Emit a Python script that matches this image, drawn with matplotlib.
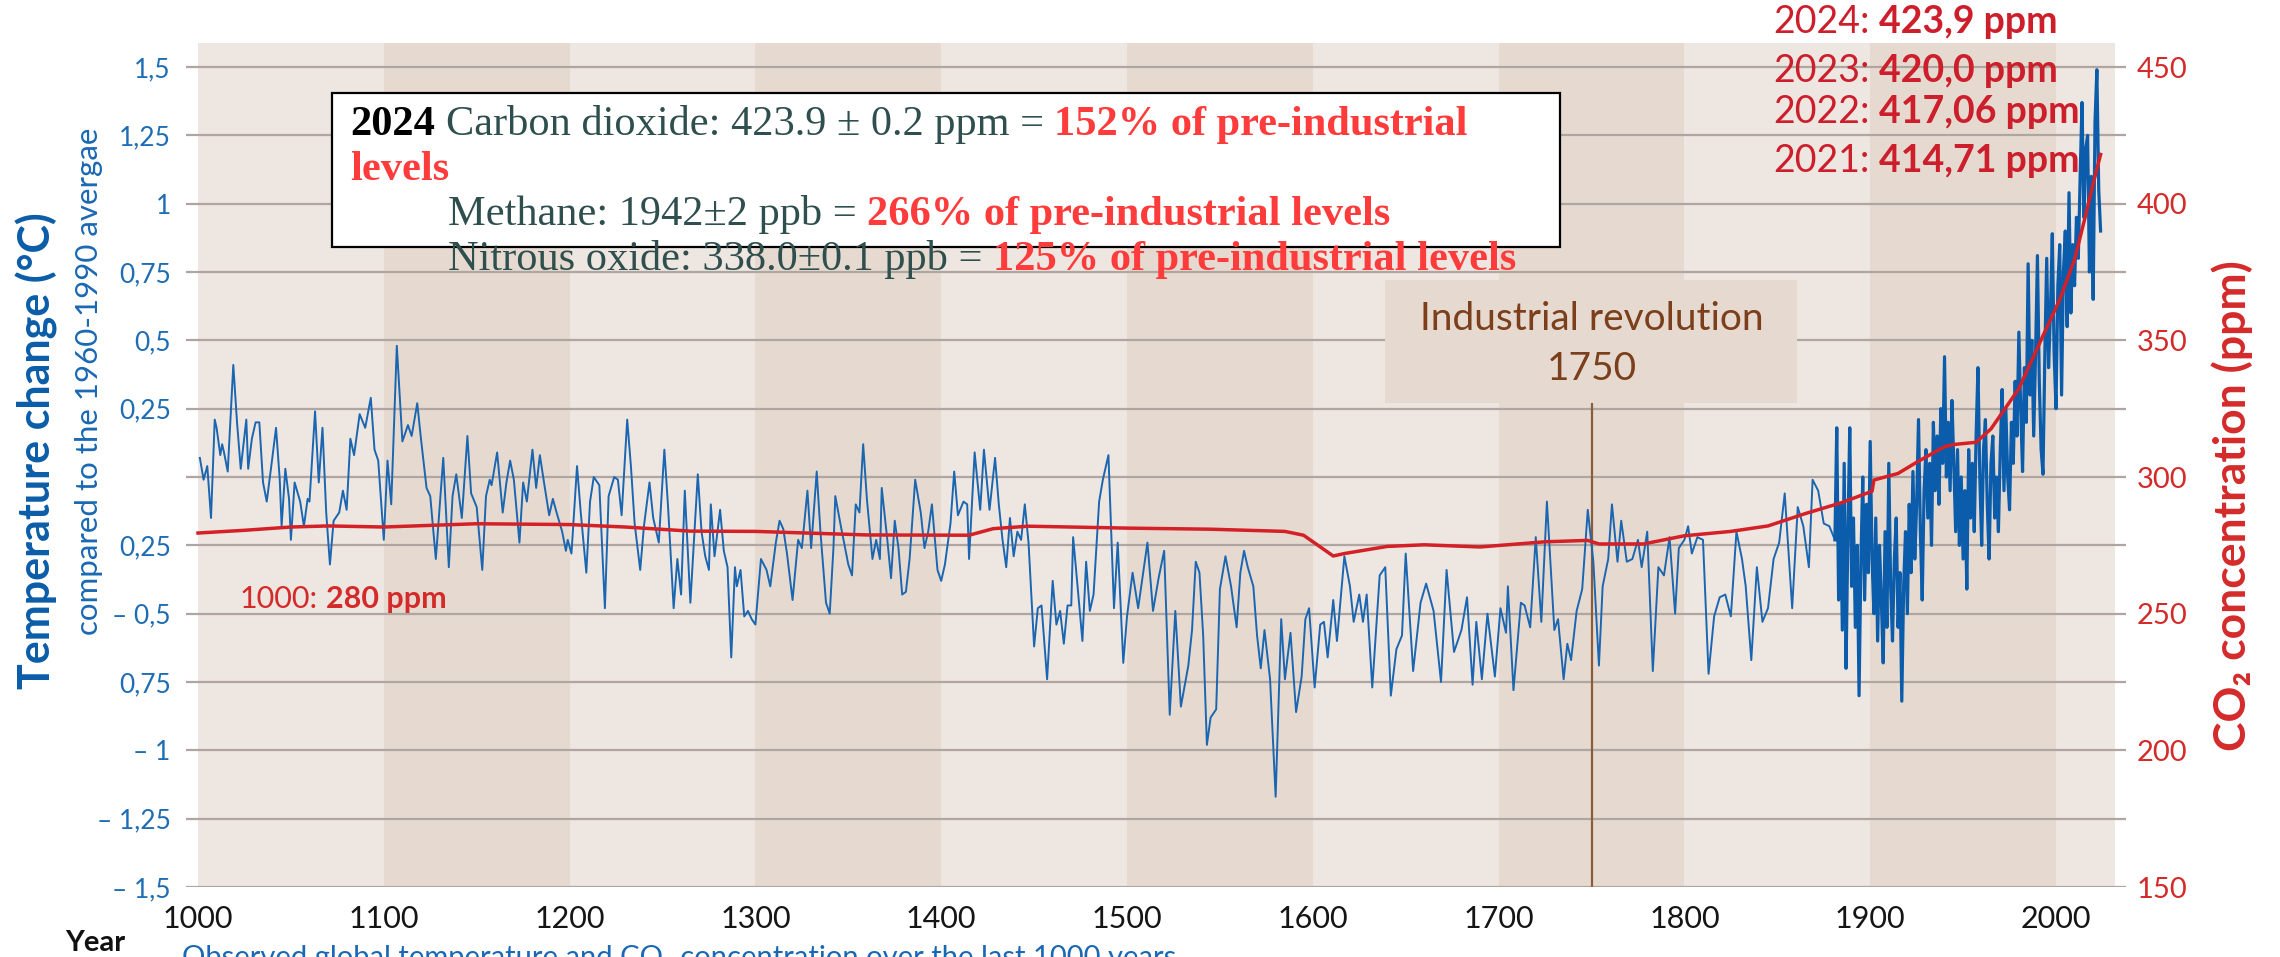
import matplotlib
matplotlib.use('Agg')
import matplotlib.pyplot as plt
from matplotlib.patches import Rectangle

W, H = 2280, 957

# temperature reconstruction, turning points (deg C vs 1960-1990)
early_years = [1001, 1003, 1005, 1007, 1009, 1010, 1012, 1013, 1014, 1016,
               1019, 1021, 1023, 1026, 1027, 1029, 1031, 1033, 1035, 1037,
               1040, 1042, 1044, 1045, 1047, 1049, 1050, 1052, 1055, 1057,
               1059, 1060, 1063, 1065, 1067, 1069, 1071, 1073, 1076, 1078,
               1080, 1082, 1084, 1087, 1090, 1093, 1095, 1097, 1100, 1102,
               1104, 1107, 1110, 1113, 1115, 1118, 1120, 1123, 1125, 1128,
               1132, 1135, 1137, 1139, 1142, 1145, 1147, 1150, 1153, 1155,
               1157, 1158, 1161, 1164, 1166, 1168, 1170, 1173, 1175, 1177,
               1180, 1182, 1184, 1186, 1189, 1191, 1193, 1196, 1198, 1199,
               1201, 1204, 1206, 1209, 1211, 1213, 1216, 1219, 1221, 1224,
               1226, 1228, 1231, 1233, 1235, 1238, 1240, 1243, 1245, 1248,
               1251, 1253, 1256, 1258, 1260, 1262, 1265, 1269, 1271, 1273,
               1275, 1276, 1278, 1281, 1283, 1285, 1287, 1289, 1290, 1292,
               1294, 1296, 1298, 1300, 1303, 1306, 1308, 1311, 1313, 1315,
               1317, 1320, 1323, 1325, 1328, 1330, 1333, 1335, 1338, 1340,
               1342, 1343, 1346, 1350, 1352, 1354, 1356, 1358, 1360,
               1363, 1365, 1367, 1368, 1371, 1373, 1375, 1377, 1379, 1381,
               1383, 1386, 1389, 1391, 1393, 1395, 1398, 1400, 1402, 1405,
               1407, 1409, 1412, 1414, 1415, 1418, 1421, 1423, 1426, 1429,
               1431, 1433, 1435, 1437, 1439, 1441, 1443, 1445, 1447, 1450,
               1452, 1454, 1457, 1460, 1462, 1464, 1466, 1468, 1470, 1471,
               1473, 1476, 1478, 1480, 1482, 1485, 1487, 1490, 1493, 1495,
               1498, 1500, 1503, 1506, 1511, 1514, 1517, 1520, 1523, 1526,
               1529, 1533, 1535, 1537, 1539, 1541, 1543, 1545, 1548, 1550,
               1553, 1556, 1559, 1561, 1563, 1565, 1568, 1570, 1572, 1574,
               1577, 1580, 1583, 1585, 1588, 1591, 1594, 1596, 1598, 1601,
               1604, 1606, 1608, 1611, 1613, 1617, 1620, 1622, 1625, 1627,
               1629, 1632, 1636, 1639, 1642, 1645, 1648, 1650, 1654, 1658,
               1661, 1665, 1669, 1672, 1676, 1680, 1683, 1686, 1688, 1691,
               1694, 1698, 1701, 1704, 1705, 1708, 1712, 1714, 1717, 1720,
               1723, 1726,
               1730, 1732, 1735, 1737, 1739, 1742, 1745, 1748, 1751, 1754,
               1756, 1759, 1761, 1764, 1766, 1769, 1772, 1775, 1777, 1780,
               1783, 1786, 1789, 1792, 1795, 1797, 1800, 1802, 1804, 1807,
               1810, 1813, 1816, 1819, 1822, 1825, 1828, 1831, 1833, 1836,
               1839, 1842, 1845, 1848, 1851, 1854, 1858, 1861, 1864, 1867,
               1869, 1872, 1875, 1878, 1881]
early_temp = [0.07, -0.01, 0.04, -0.15, 0.21, 0.18, 0.08, 0.12, 0.09, 0.02,
              0.41, 0.20, 0.03, 0.21, 0.03, 0.14, 0.20, 0.20, -0.02, -0.09,
              0.07, 0.18, -0.01, -0.18, 0.03, -0.08, -0.23, -0.02, -0.09, -0.18,
              -0.08, -0.09, 0.24, -0.02, 0.18, -0.13, -0.32, -0.16, -0.13, -0.05,
              -0.12, 0.14, 0.08, 0.23, 0.18, 0.29, 0.10, 0.06, -0.23, 0.06,
              -0.10, 0.48, 0.13, 0.19, 0.15, 0.27, 0.14, -0.04, -0.07, -0.30,
              0.07, -0.33, -0.07, 0.01, -0.15, 0.15, -0.06, -0.11, -0.34, -0.07,
              -0.01, -0.03, 0.09, -0.13, -0.02, 0.06, -0.01, -0.24, -0.02, -0.09,
              0.10, -0.04, 0.08, -0.01, -0.14, -0.08, -0.13, -0.20, -0.27, -0.23,
              -0.28, 0.04, -0.13, -0.35, -0.09, 0.00, -0.03, -0.48, -0.07, 0.00,
              -0.01, -0.14, 0.21, 0.04, -0.17, -0.34, -0.18, -0.02, -0.15, -0.24,
              0.10, -0.11, -0.48, -0.30, -0.43, -0.05, -0.46, 0.01, -0.20, -0.29,
              -0.34, -0.10, -0.29, -0.12, -0.27, -0.33, -0.66, -0.33, -0.40, -0.34,
              -0.51, -0.49, -0.52, -0.54, -0.30, -0.34, -0.40, -0.24, -0.16, -0.19,
              -0.28, -0.45, -0.23, -0.26, -0.05, -0.26, 0.02, -0.20, -0.46, -0.50,
              -0.26, -0.07, -0.18, -0.32, -0.36, -0.10, -0.13, 0.12, -0.08,
              -0.30, -0.23, -0.30, -0.04, -0.23, -0.37, -0.16, -0.26, -0.43, -0.42,
              -0.30, -0.01, -0.13, -0.26, -0.20, -0.10, -0.34, -0.38, -0.32, -0.17,
              0.02, -0.14, -0.09, -0.10, -0.30, 0.09, -0.12, 0.10, -0.12, 0.07,
              -0.10, -0.23, -0.33, -0.15, -0.29, -0.20, -0.23, -0.10, -0.24, -0.62,
              -0.48, -0.47, -0.74, -0.38, -0.54, -0.49, -0.61, -0.47, -0.47, -0.22,
              -0.37, -0.60, -0.31, -0.49, -0.43, -0.09, -0.01, 0.08, -0.48, -0.24,
              -0.68, -0.51, -0.35, -0.48, -0.24, -0.49, -0.37, -0.27, -0.87, -0.49,
              -0.84, -0.69, -0.56, -0.31, -0.35, -0.58, -0.98, -0.88, -0.85, -0.41,
              -0.29, -0.40, -0.55, -0.35, -0.27, -0.33, -0.40, -0.58, -0.70, -0.56,
              -0.74, -1.17, -0.52, -0.74, -0.57, -0.86, -0.73, -0.52, -0.48, -0.77,
              -0.54, -0.53, -0.66, -0.45, -0.60, -0.29, -0.40, -0.53, -0.43, -0.53,
              -0.43, -0.77, -0.36, -0.33, -0.80, -0.63, -0.58, -0.28, -0.71, -0.46,
              -0.39, -0.49, -0.75, -0.34, -0.64, -0.56, -0.44, -0.76, -0.53, -0.74,
              -0.50, -0.73, -0.48, -0.57, -0.40, -0.78, -0.46, -0.47, -0.55, -0.22,
              -0.53, -0.09,
              -0.56, -0.52, -0.74, -0.61, -0.67, -0.49, -0.41, -0.12, -0.31, -0.69,
              -0.40, -0.30, -0.10, -0.31, -0.16, -0.31, -0.30, -0.23, -0.33, -0.20,
              -0.71, -0.33, -0.36, -0.22, -0.50, -0.26, -0.23, -0.18, -0.28, -0.22,
              -0.23, -0.72, -0.51, -0.44, -0.43, -0.51, -0.20, -0.30, -0.40, -0.67,
              -0.33, -0.53, -0.48, -0.30, -0.24, -0.06, -0.48, -0.11, -0.18, -0.33,
              -0.01, -0.05, -0.17, -0.18, -0.23]

# instrumental era, one value per year 1882-2024
inst_years = list(range(1882, 2025))
inst_temp = [0.18, -0.45, -0.10, -0.56, 0.05, -0.70, -0.20, 0.18, -0.40, -0.15,
             -0.55, -0.25, -0.80, -0.30, 0.00, -0.45, -0.10, -0.35, 0.13, -0.30,
             -0.50, -0.15, -0.60, -0.25, -0.45, -0.68, -0.20, -0.55, 0.05, -0.40,
             -0.60, -0.30, -0.15, -0.55, -0.35, -0.82, -0.40, -0.20, -0.50, -0.10,
             -0.35, 0.02, -0.30, -0.10, 0.21, -0.20, -0.45, -0.05, 0.10, -0.15,
             0.05, -0.25, 0.20, -0.05, 0.15, -0.10, 0.25, 0.05, 0.44, 0.00,
             0.20, -0.05, 0.28, 0.05, -0.20, 0.10, -0.25, 0.00, -0.30, -0.05,
             -0.41, 0.10, -0.15, 0.05, -0.20, 0.15, 0.40, 0.00, -0.25, 0.10,
             0.21, -0.10, -0.30, 0.05, 0.15, -0.15, 0.00, -0.20, 0.10, 0.32,
             -0.05, 0.25, 0.00, -0.12, 0.20, 0.05, 0.35, 0.15, 0.53, 0.25,
             0.02, 0.40, 0.20, 0.78, 0.30, 0.50, 0.15, 0.45, 0.81, 0.35,
             0.10, 0.01, 0.45, 0.80, 0.40, 0.60, 0.89, 0.45, 0.25, 0.70,
             0.85, 0.30, 0.75, 0.90, 0.55, 1.04, 0.60, 0.85, 0.70, 0.95,
             0.80, 1.10, 1.37, 0.95, 1.20, 1.25, 0.75, 1.10, 0.65, 1.30,
             1.49, 1.05, 0.90]

# CO2 concentration (ppm)
co2_years = [1000, 1025, 1050, 1070, 1100, 1150, 1200, 1230, 1265, 1300,
             1360, 1415, 1428, 1447, 1500, 1545, 1585, 1595, 1611, 1617,
             1640, 1660, 1690, 1725, 1748, 1754, 1778, 1800, 1825, 1845,
             1865, 1885, 1901, 1902, 1915, 1925, 1940, 1945, 1957, 1965,
             1980, 1992, 2002, 2010, 2016, 2020, 2024]
co2_ppm = [279.5, 280.5, 281.7, 282.1, 281.7, 282.9, 282.6, 281.7, 280.2, 280.1,
           278.8, 278.7, 281.1, 282.0, 281.3, 280.9, 280.1, 278.7, 271.1, 272.0,
           274.6, 275.2, 274.4, 276.3, 276.8, 275.5, 275.5, 278.5, 280.1, 282.1,
           286.6, 290.7, 294.8, 298.9, 301.3, 305.4, 311.1, 311.9, 312.7, 317.6,
           332.3, 350.2, 364.9, 379.6, 395.9, 407.3, 418.0]

centuries = list(range(1000, 2100, 100))
temp_ticks = [-1.5, -1.25, -1.0, -0.75, -0.5, -0.25, 0.0, 0.25, 0.5, 0.75, 1.0, 1.25, 1.5]
temp_labels = ['– 1,5', '– 1,25', '– 1', '0,75', '– 0,5', '0,25', '',
               '0,25', '0,5', '0,75', '1', '1,25', '1,5']
co2_ticks = [150, 200, 250, 300, 350, 400, 450]
year_ticks = list(range(1000, 2001, 100))
recent_labels = [('2024:', '423,9 ppm'), ('2023:', '420,0 ppm'),
                 ('2022:', '417,06 ppm'), ('2021:', '414,71 ppm')]

plt.rcParams['font.family'] = ['Lato', 'DejaVu Sans']

BLUE = '#1B66B1'
RED = '#D42A2A'

fig = plt.figure(figsize=(22.8, 9.57), dpi=100)
ax = fig.add_axes([186 / W, 70 / H, 1940 / W, 844 / H])
ax.set_xlim(1000 - 12 / 1.858, 2000 + 70 / 1.858)
ax.set_ylim(-1.5, 1.5 + 24 / 273.3)

for i, c in enumerate(centuries):
    ax.axvspan(c, min(c + 100, 2032), color='#EEE6E0' if i % 2 == 0 else '#E6DAD0',
               lw=0, zorder=0.5)

ax.set_yticks(temp_ticks, temp_labels)
ax.set_xticks(year_ticks)
ax.grid(axis='y', color='#AFA6A1', lw=1.6)
ax.tick_params(axis='y', length=0, pad=11, labelsize=19, labelcolor='#1F6DB4')
ax.tick_params(axis='x', length=0, pad=13, labelsize=22, labelcolor='#151515')
for s in ax.spines.values():
    s.set_visible(False)

# industrial revolution marker
ax.add_patch(Rectangle((1639, 0.271), 221.6, 0.45, facecolor='#E6D9CF', lw=0, zorder=1.6))
ax.vlines(1750, -1.5, 0.271, color='#8C5B3B', lw=1.6, zorder=1.7)
ax.text(1750, 0.538, 'Industrial revolution', ha='center', va='baseline',
        fontsize=28, color='#7B3F1C', zorder=3)
ax.text(1750, 0.355, '1750', ha='center', va='baseline',
        fontsize=28, color='#7B3F1C', zorder=3)

ax.plot(early_years, early_temp, color=BLUE, lw=1.4, zorder=2)
ax.plot(early_years[-1:] + inst_years, early_temp[-1:] + inst_temp,
        color='#0B5CAB', lw=2.3, zorder=2)

ax2 = ax.twinx()
ax2.set_ylim(150, 300 + 100 * (1.5 + 24 / 273.3))
ax2.set_yticks(co2_ticks)
ax2.tick_params(axis='y', length=0, pad=8, labelsize=21, labelcolor=RED)
for s in ax2.spines.values():
    s.set_visible(False)
ax2.plot(co2_years, co2_ppm, color='#D42027', lw=2.5)

# axis titles
fig.text(37 / W, 1 - 451 / H, 'Temperature change (°C)', rotation=90, ha='center',
         va='center', fontsize=31, fontweight='bold', color='#0B5DA8')
fig.text(89 / W, 1 - 381 / H, 'compared to the 1960-1990 avergae', rotation=90,
         ha='center', va='center', fontsize=22.5, color='#1A68B3')
fig.text(2232 / W, 1 - 506 / H, 'CO₂ concentration (ppm)', rotation=90, ha='center',
         va='center', fontsize=32, fontweight='bold', color=RED)
fig.text(65 / W, 1 - 943 / H, 'Year', ha='left', va='center', fontsize=21,
         fontweight='bold', color='#111111')
fig.text(182 / W, 1 - 945 / H,
         'Observed global temperature and CO₂ concentration over the last 1000 years',
         ha='left', va='top', fontsize=21, color='#1A68B3')

renderer = fig.canvas.get_renderer()


def width_of(s, **kw):
    t = fig.text(0, 0, s, **kw)
    w = t.get_window_extent(renderer).width
    t.remove()
    return w


def rich(x, y, pieces, size, family, z=6):
    gap = width_of('a a', fontsize=size, family=family) - width_of('aa', fontsize=size, family=family)
    for s, color, weight in pieces:
        t = fig.text(x / W, 1 - y / H, s, fontsize=size, family=family, color=color,
                     fontweight=weight, ha='left', va='baseline', zorder=z)
        x += t.get_window_extent(renderer).width + gap


# gases box
fig.add_artist(Rectangle((332 / W, 1 - 247 / H), 1228 / W, 154 / H, transform=fig.transFigure,
                         facecolor='white', edgecolor='black', lw=1.6, zorder=5))
SERIF = ['Liberation Serif', 'DejaVu Serif']
SLATE = '#2F4F4F'
BRED = '#FF3B3B'
rich(350, 135, [('2024', 'black', 'bold'),
                ('Carbon dioxide: 423.9 ± 0.2 ppm =', SLATE, 'normal'),
                ('152% of pre-industrial', BRED, 'bold')], 30.5, SERIF)
rich(350, 180, [('levels', BRED, 'bold')], 30.5, SERIF)
rich(448, 225, [('Methane: 1942±2 ppb =', SLATE, 'normal'),
                ('266% of pre-industrial levels', BRED, 'bold')], 30.5, SERIF)
rich(448, 270, [('Nitrous oxide: 338.0±0.1 ppb =', SLATE, 'normal'),
                ('125% of pre-industrial levels', BRED, 'bold')], 30.5, SERIF)

# CO2 readings
rich(240, 608, [('1000:', RED, 'normal'), ('280 ppm', RED, 'bold')], 22, ['Lato', 'DejaVu Sans'])
for (yr, val), yb in zip(recent_labels, [33, 82, 123, 172]):
    rich(1773, yb, [(yr, '#CC1E2B', 'normal'), (val, '#CC1E2B', 'bold')], 27,
         ['Lato', 'DejaVu Sans'])

fig.savefig('out.png', dpi=100)
